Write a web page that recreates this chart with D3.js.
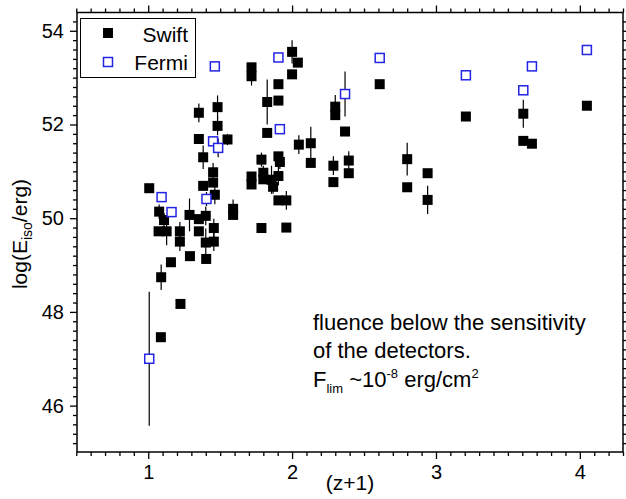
<!DOCTYPE html>
<html>
<head>
<meta charset="utf-8">
<script src="https://cdn.jsdelivr.net/npm/d3@7"></script>
<style>
    body { margin: 0; background: #fff; }
    svg { display: block; font-family: "Liberation Sans", Arial, sans-serif; }
</style>
</head>
<body>
<svg id="chart" width="626" height="499"></svg>
<script>
// Swift points: [z+1, log(Eiso), error]
const swiftZ = [1.007, 1.076, 1.11, 1.072, 1.128, 1.22, 1.22, 1.287, 1.352, 1.40, 1.352, 1.456, 1.40, 1.456, 1.29, 1.403, 1.158, 1.09, 1.224, 1.088,
    1.352, 1.482, 1.482, 1.352, 1.551, 1.382, 1.451, 1.451, 1.382, 1.463, 1.59, 1.59,
    1.718, 1.718, 2.0, 2.04, 2.0, 1.905, 1.905, 1.827, 1.827, 2.047, 2.13, 2.13, 1.787, 1.905, 1.915, 1.80, 1.80, 1.905, 1.718, 1.718, 1.857, 1.868, 1.905, 1.96, 1.787, 1.96,
    2.30, 2.30, 2.609, 2.368, 2.287, 2.287, 2.394, 2.394, 2.80, 2.80, 2.942, 2.942, 3.208, 3.607, 3.607, 3.667, 4.049];
const swiftE = [50.64, 50.14, 49.96, 49.72, 49.72, 49.72, 49.50, 50.07, 49.98, 50.05, 49.72, 49.79, 49.48, 49.50, 49.19, 49.13, 49.06, 48.74, 48.17, 47.46,
    52.25, 52.37, 51.97, 51.69, 51.68, 51.30, 50.98, 50.76, 50.69, 50.50, 50.20, 50.07,
    53.22, 53.03, 53.55, 53.32, 53.07, 52.86, 52.51, 52.48, 51.82, 51.57, 51.60, 51.18, 51.25, 51.32, 51.20, 50.97, 50.83, 50.90, 50.89, 50.72, 50.82, 50.67, 50.38, 50.38, 49.79, 49.80,
    52.38, 52.20, 52.86, 51.85, 51.12, 50.77, 51.23, 50.96, 51.26, 50.66, 50.96, 50.39, 52.17, 52.23, 51.65, 51.59, 52.40];
const swiftErr = [0, 0.15, 0.15, 0, 0.3, 0.2, 0.2, 0.35, 0, 0.2, 0, 0.2, 0.3, 0.2, 0, 0, 0, 0.27, 0, 0,
    0.2, 0.25, 0.2, 0, 0.12, 0.25, 0.2, 0, 0, 0.2, 0.2, 0,
    0, 0.2, 0.25, 0, 0, 0, 0, 0.48, 0, 0.2, 0.35, 0, 0.15, 0, 0.15, 0.15, 0, 0.2, 0, 0.1, 0.3, 0.15, 0, 0.2, 0, 0,
    0.25, 0, 0, 0, 0.2, 0, 0.2, 0, 0.35, 0, 0, 0.3, 0, 0.3, 0, 0, 0];

// Fermi points
const fermiZ = [1.007, 1.093, 1.162, 1.405, 1.451, 1.486, 1.463, 1.905, 1.915, 2.368, 2.609, 3.208, 3.607, 3.667, 4.049];
const fermiE = [47.0, 50.45, 50.13, 50.41, 51.64, 51.50, 53.24, 53.43, 51.90, 52.65, 53.42, 53.05, 52.73, 53.24, 53.59];
const fermiErr = [1.43, 0.1, 0, 0.15, 0, 0.2, 0.1, 0, 0.1, 0.48, 0, 0.08, 0, 0.1, 0.1];

const xMajor = [1, 2, 3, 4];
const yMajor = [46, 48, 50, 52, 54];

const FONT = "\"Liberation Sans\", Arial, sans-serif";
const BLUE = "#2424e6";
const plotLeft = 77, plotRight = 623, plotTop = 12.5, plotBottom = 452;

const svg = d3.select("#chart");

const x = d3.scaleLinear().domain([0.505, 4.3]).range([plotLeft, plotRight]);
const y = d3.scaleLinear().domain([45.01, 54.39]).range([plotBottom, plotTop]);

const xMinor = d3.range(5, 44).map(d => d / 10).filter(d => !xMajor.includes(d));
const yMinor = d3.range(226, 272).map(d => d / 5).filter(d => !yMajor.includes(d));

function addAxis(axisFn, scale, pos, minor, major, labels) {
    const gMin = svg.append("g")
        .attr("transform", pos)
        .call(axisFn(scale).tickValues(minor).tickSize(4).tickFormat(""));
    const gMaj = svg.append("g")
        .attr("transform", pos)
        .call(axisFn(scale).tickValues(major).tickSize(7).tickPadding(labels ? 6 : 0)
            .tickFormat(labels ? d3.format("d") : ""));
    [gMin, gMaj].forEach(g => {
        g.select("path.domain").remove();
        g.selectAll("line").attr("stroke", "#000").attr("stroke-width", 1.3);
        g.selectAll("text")
            .attr("font-family", FONT)
            .attr("font-size", 20)
            .attr("fill", "#000");
    });
    return gMaj;
}

addAxis(d3.axisBottom, x, `translate(0,${plotBottom})`, xMinor, xMajor, true);
addAxis(d3.axisTop, x, `translate(0,${plotTop})`, xMinor, xMajor, false);
addAxis(d3.axisLeft, y, `translate(${plotLeft},0)`, yMinor, yMajor, true);
addAxis(d3.axisRight, y, `translate(${plotRight},0)`, yMinor, yMajor, false);

svg.append("rect")
    .attr("x", plotLeft).attr("y", plotTop)
    .attr("width", plotRight - plotLeft).attr("height", plotBottom - plotTop)
    .attr("fill", "none").attr("stroke", "#000").attr("stroke-width", 1.5);

// error bars
const swift = swiftZ.map((z, i) => ({ z: z, e: swiftE[i], err: swiftErr[i] }));
const fermi = fermiZ.map((z, i) => ({ z: z, e: fermiE[i], err: fermiErr[i] }));

svg.append("g")
    .selectAll("line")
    .data(swift.concat(fermi).filter(d => d.err > 0))
    .join("line")
    .attr("x1", d => x(d.z)).attr("x2", d => x(d.z))
    .attr("y1", d => y(d.e - d.err)).attr("y2", d => y(d.e + d.err))
    .attr("stroke", "#000").attr("stroke-width", 1.2);

const sw = 10, fw = 9;

svg.append("g")
    .selectAll("rect")
    .data(swift)
    .join("rect")
    .attr("x", d => x(d.z) - sw / 2).attr("y", d => y(d.e) - sw / 2)
    .attr("width", sw).attr("height", sw)
    .attr("fill", "#000");

svg.append("g")
    .selectAll("rect")
    .data(fermi)
    .join("rect")
    .attr("x", d => x(d.z) - fw / 2).attr("y", d => y(d.e) - fw / 2)
    .attr("width", fw).attr("height", fw)
    .attr("fill", "#fff").attr("stroke", BLUE).attr("stroke-width", 1.5);

// legend
const legend = svg.append("g");
legend.append("rect")
    .attr("x", 80.5).attr("y", 18.5).attr("width", 115).attr("height", 59)
    .attr("fill", "#fff").attr("stroke", "#000").attr("stroke-width", 1);
legend.append("rect")
    .attr("x", 103).attr("y", 28).attr("width", 10).attr("height", 10).attr("fill", "#000");
legend.append("rect")
    .attr("x", 103.5).attr("y", 57.5).attr("width", 9).attr("height", 9)
    .attr("fill", "#fff").attr("stroke", BLUE).attr("stroke-width", 1.5);
legend.append("text")
    .attr("x", 188).attr("y", 41.5).attr("text-anchor", "end")
    .attr("font-size", 21).attr("font-family", FONT).text("Swift");
legend.append("text")
    .attr("x", 188).attr("y", 69.5).attr("text-anchor", "end")
    .attr("font-size", 21).attr("font-family", FONT).text("Fermi");

// axis titles
svg.append("text")
    .attr("x", 350).attr("y", 490).attr("text-anchor", "middle")
    .attr("font-size", 21).attr("font-family", FONT).text("(z+1)");

const yTitle = svg.append("text")
    .attr("transform", "translate(27,234) rotate(-90)")
    .attr("text-anchor", "middle")
    .attr("font-size", 21).attr("font-family", FONT);
yTitle.append("tspan").text("log(E");
yTitle.append("tspan").attr("font-size", 14).attr("dy", 5).text("iso");
yTitle.append("tspan").attr("dy", -5).text("/erg)");

// annotation
const note = svg.append("g")
    .attr("font-size", 22).attr("font-family", FONT);
note.append("text").attr("x", 313).attr("y", 330).text("fluence below the sensitivity");
note.append("text").attr("x", 313).attr("y", 358).text("of the detectors.");
const l3 = note.append("text").attr("x", 313).attr("y", 387);
l3.append("tspan").text("F");
l3.append("tspan").attr("font-size", 13).attr("dy", 6).text("lim");
l3.append("tspan").attr("dy", -6).text(" ~10");
l3.append("tspan").attr("font-size", 13).attr("dy", -9).text("-8");
l3.append("tspan").attr("dy", 9).text(" erg/cm");
l3.append("tspan").attr("font-size", 13).attr("dy", -9).text("2");
</script>
</body>
</html>
